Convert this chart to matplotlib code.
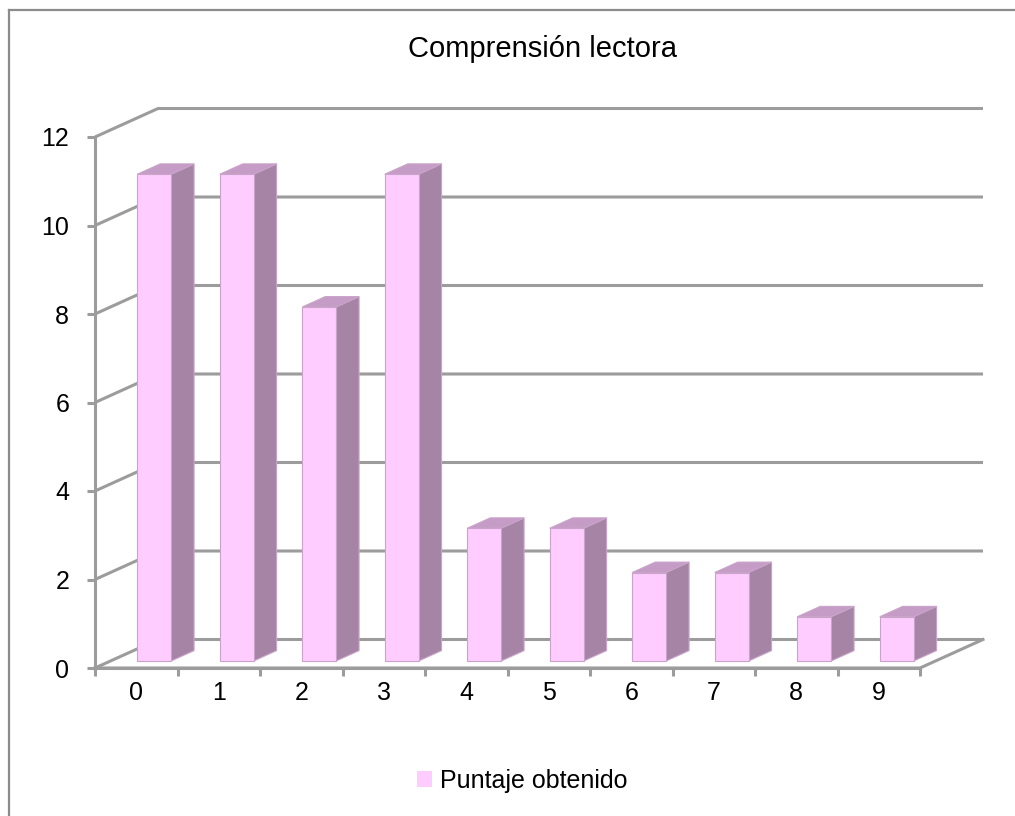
import matplotlib.pyplot as plt
from matplotlib.patches import Polygon, Patch
from matplotlib.lines import Line2D

categories = ["0", "1", "2", "3", "4", "5", "6", "7", "8", "9"]
puntaje = [11, 11, 8, 11, 3, 3, 2, 2, 1, 1]
y_ticks = [0, 2, 4, 6, 8, 10, 12]

W, H = 1015, 816
fig = plt.figure(figsize=(W / 100, H / 100), dpi=100)
ax = fig.add_axes([95 / W, (H - 668) / H, 825 / W, (668 - 137) / H])
ax.set_xlim(0, len(categories))
ax.set_ylim(0, y_ticks[-1])

# oblique depth vector, in data units
DX, DY = 63 / 82.5, 28.5 / 44.25
grid_col = "#9c9c9c"
grid_lw = 2.2
label_size = 18


def proj(x, y, d):
    return (x + d * DX, y + d * DY)


# back wall and left wall gridlines
n = len(categories)
for t in y_ticks:
    xs, ys = zip(proj(0, t, 0), proj(0, t, 1), proj(n, t, 1))
    ax.plot(xs, ys, color=grid_col, lw=grid_lw, clip_on=False, zorder=1,
            solid_capstyle="butt")

# floor outline
xs, ys = zip(proj(0, 0, 0), proj(n, 0, 0), proj(n, 0, 1))
ax.plot(xs, ys, color=grid_col, lw=grid_lw, clip_on=False, zorder=1)

# bars
front_c, side_c, top_c, edge_c = "#ffccff", "#a684a5", "#c59cc5", "#c9a3c9"
d0, d1 = 0.245, 0.61
bw = 0.41
for i, v in enumerate(puntaje):
    x0 = i + 0.5 - bw / 2 + 0.03
    x1 = x0 + bw
    front = [proj(x0, 0, d0), proj(x1, 0, d0), proj(x1, v, d0), proj(x0, v, d0)]
    side = [proj(x1, 0, d0), proj(x1, 0, d1), proj(x1, v, d1), proj(x1, v, d0)]
    top = [proj(x0, v, d0), proj(x1, v, d0), proj(x1, v, d1), proj(x0, v, d1)]
    for pts, c in [(side, side_c), (top, top_c), (front, front_c)]:
        ax.add_patch(Polygon(pts, closed=True, facecolor=c, edgecolor=edge_c,
                             lw=0.8, clip_on=False, zorder=3))

# axes
for s in ["top", "right"]:
    ax.spines[s].set_visible(False)
for s in ["left", "bottom"]:
    ax.spines[s].set_color(grid_col)
    ax.spines[s].set_linewidth(grid_lw)
ax.set_yticks(y_ticks)
ax.set_yticklabels([str(t) for t in y_ticks])
ax.set_xticks(range(n + 1))
ax.set_xticklabels([])
ax.set_xticks([i + 0.5 for i in range(n)], minor=True)
ax.set_xticklabels(categories, minor=True)
ax.tick_params(axis="both", which="major", direction="out", length=5.5,
               width=grid_lw, color=grid_col, labelsize=label_size)
ax.tick_params(axis="y", pad=13)
ax.tick_params(axis="x", which="minor", length=0, labelsize=label_size, pad=9)
ax.patch.set_alpha(0)

for lab in ax.get_xticklabels(minor=True) + ax.get_yticklabels():
    lab.set_fontfamily("Liberation Sans")

fig.text(542 / W, 1 - 49 / H, "Comprensión lectora", ha="center", va="center",
         fontsize=21, family="Liberation Sans")

fig.legend(handles=[Patch(facecolor=front_c, edgecolor="none")],
           labels=["Puntaje obtenido"], loc="center",
           bbox_to_anchor=(522 / W, 1 - 781 / H), frameon=False,
           handlelength=0.6, handleheight=0.6, handletextpad=0.3,
           prop={"family": "Liberation Sans", "size": label_size})

# outer frame
fig.add_artist(Line2D([9 / W, 9 / W], [0, 1 - 10 / H], color="#8c8c8c", lw=1.6,
                      transform=fig.transFigure))
fig.add_artist(Line2D([9 / W, 1], [1 - 10 / H, 1 - 10 / H], color="#8c8c8c",
                      lw=1.6, transform=fig.transFigure))

fig.savefig("out.png", dpi=100)
